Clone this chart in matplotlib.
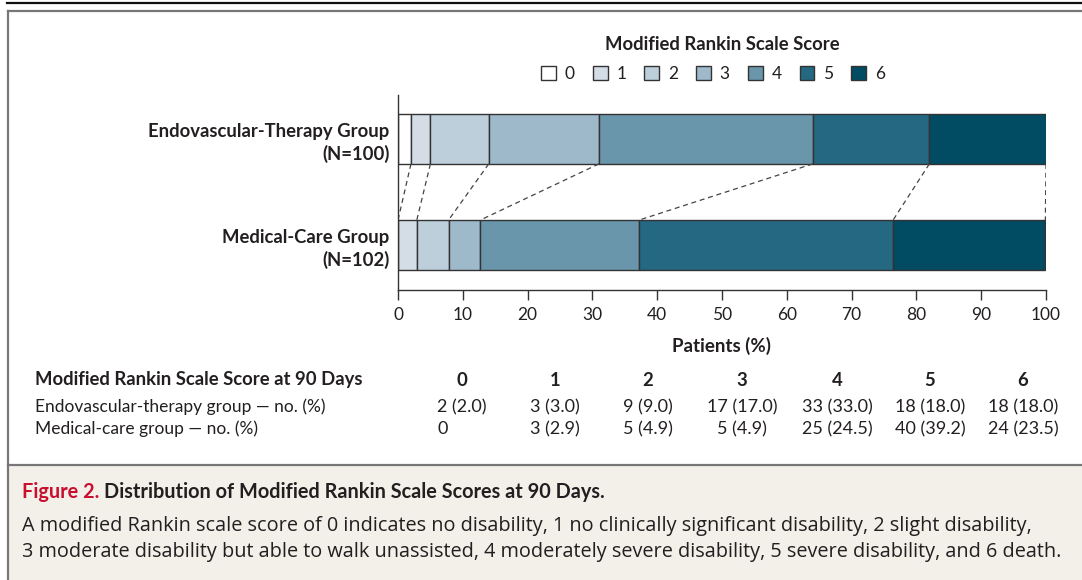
import matplotlib.pyplot as plt
import matplotlib.patches as mpatches
from matplotlib.lines import Line2D

# ===============================
# DATA
# ===============================
scores = ["0", "1", "2", "3", "4", "5", "6"]
groups = ["Endovascular-Therapy Group\n(N=100)", "Medical-Care Group\n(N=102)"]
endo_pct = [2.0, 3.0, 9.0, 17.0, 33.0, 18.0, 18.0]
med_pct = [0.0, 2.9, 4.9, 4.9, 24.5, 39.2, 23.5]
endo_n = [2, 3, 9, 17, 33, 18, 18]
med_n = [0, 3, 5, 5, 25, 40, 24]
xticks = [0, 10, 20, 30, 40, 50, 60, 70, 80, 90, 100]

colors = ["#ffffff", "#d4dde5", "#bccfdb", "#9eb9ca", "#6a96ab", "#246882", "#014b63"]
EDGE = "#333333"
TEXT = "#231f20"
W, H = 1082, 580
BOLD = 13.3

plt.rcParams["font.family"] = ["Lato", "DejaVu Sans"]


def fx(x):
    return x / W


def fy(y):
    return 1 - y / H


fig = plt.figure(figsize=(W / 100, H / 100), dpi=100)

# ===============================
# FRAME / CAPTION BACKGROUND
# ===============================
fig.add_artist(mpatches.Rectangle((fx(8), 0), 1, fy(466), transform=fig.transFigure,
                                  facecolor="#f3f0ea", edgecolor="none", zorder=0))
fig.add_artist(Line2D([fx(7), 1], [fy(3), fy(3)], transform=fig.transFigure, color="#111111", lw=1.6))
fig.add_artist(Line2D([fx(8), 1], [fy(11), fy(11)], transform=fig.transFigure, color="#777777", lw=1.6))
fig.add_artist(Line2D([fx(8), fx(8)], [0, fy(11)], transform=fig.transFigure, color="#777777", lw=1.6))
fig.add_artist(Line2D([fx(8), 1], [fy(465), fy(465)], transform=fig.transFigure, color="#777777", lw=1.6))

# ===============================
# BARS
# ===============================
ax = fig.add_axes([fx(398), fy(290), fx(1046) - fx(398), fy(95) - fy(290)])
bar_h = 0.47
ypos = [1, 0]
for y, vals in zip(ypos, [endo_pct, med_pct]):
    left = 0
    for v, c in zip(vals, colors):
        if v > 0:
            ax.barh(y, v, left=left, height=bar_h, color=c, edgecolor=EDGE, linewidth=1.0)
        left += v

# dashed connectors between cumulative boundaries
endo_cum, med_cum = [], []
a = b = 0
for e, m in zip(endo_pct, med_pct):
    a += e
    b += m
    endo_cum.append(a)
    med_cum.append(b)
for e, m in zip(endo_cum, med_cum):
    ax.plot([e, m], [1 - bar_h / 2, bar_h / 2], ls=(0, (4, 3)), color="#444444", lw=0.9)

ax.set_xlim(0, 100)
ax.set_ylim(-0.4245, 1.415)
ax.set_xticks(xticks)
ax.set_yticks(ypos)
ax.set_yticklabels(groups, fontweight="bold", fontsize=BOLD, color=TEXT, linespacing=1.3)
ax.tick_params(axis="y", length=0, pad=6)
ax.tick_params(axis="x", length=7, width=1.0, color=EDGE, labelsize=12.5, labelcolor=TEXT, pad=5)
for s in ["top", "right"]:
    ax.spines[s].set_visible(False)
for s in ["left", "bottom"]:
    ax.spines[s].set_color(EDGE)
    ax.spines[s].set_linewidth(1.0)
ax.set_xlabel("Patients (%)", fontweight="bold", fontsize=13.5, color=TEXT, labelpad=10)

# ===============================
# LEGEND
# ===============================
fig.text(fx(722), fy(45), "Modified Rankin Scale Score", fontsize=BOLD, fontweight="bold",
         color=TEXT, ha="center", va="center")
handles = [mpatches.Patch(facecolor=c, edgecolor=EDGE, linewidth=1.0, label=s)
           for c, s in zip(colors, scores)]
leg = fig.legend(handles=handles, ncol=7, loc="center", bbox_to_anchor=(fx(713), fy(74)),
                 frameon=False, fontsize=12.5, handlelength=0.85, handleheight=0.85,
                 handletextpad=0.5, columnspacing=1.05, borderpad=0)
for t in leg.get_texts():
    t.set_color(TEXT)

# ===============================
# TABLE
# ===============================
col_x = [462, 555, 648, 742, 837, 930, 1023]
row_y = [380, 407, 429]
fig.text(fx(35), fy(row_y[0]), "Modified Rankin Scale Score at 90 Days", fontsize=BOLD,
         fontweight="bold", color=TEXT, va="center")
fig.text(fx(35), fy(row_y[1]), "Endovascular-therapy group \u2014 no. (%)", fontsize=12.5,
         color=TEXT, va="center")
fig.text(fx(35), fy(row_y[2]), "Medical-care group \u2014 no. (%)", fontsize=12.5,
         color=TEXT, va="center")

fig.canvas.draw()
renderer = fig.canvas.get_renderer()
for i, s in enumerate(scores):
    fig.text(fx(col_x[i]), fy(row_y[0]), s, fontsize=BOLD, fontweight="bold", color=TEXT,
             ha="center", va="center")
    t1 = fig.text(fx(col_x[i]), fy(row_y[1]), f"{endo_n[i]} ({endo_pct[i]:.1f})", fontsize=13,
                  color=TEXT, ha="center", va="center")
    # right-align the medical-care count under the endovascular count
    c1 = fig.text(0, 0, str(endo_n[i]), fontsize=13)
    c2 = fig.text(0, 0, str(med_n[i]), fontsize=13)
    bb = t1.get_window_extent(renderer)
    x_right = bb.x0 + c1.get_window_extent(renderer).width
    x_left = x_right - c2.get_window_extent(renderer).width
    c1.remove()
    c2.remove()
    label = str(med_n[i]) if med_n[i] == 0 else f"{med_n[i]} ({med_pct[i]:.1f})"
    fig.text(x_left / fig.bbox.width, fy(row_y[2]), label, fontsize=13, color=TEXT,
             ha="left", va="center")

# ===============================
# CAPTION
# ===============================
cap_font = ["Open Sans", "DejaVu Sans"]
t = fig.text(fx(22), fy(492), "Figure 2. ", fontsize=14.3, fontweight="bold", color="#c8102e",
             va="center")
bb = t.get_window_extent(renderer)
fig.text(bb.x1 / fig.bbox.width, fy(492), "Distribution of Modified Rankin Scale Scores at 90 Days.",
         fontsize=14.3, fontweight="bold", color=TEXT, va="center")
fig.text(fx(22), fy(526), "A modified Rankin scale score of 0 indicates no disability, 1 no clinically "
         "significant disability, 2 slight disability,", fontsize=14.3, color=TEXT, va="center",
         family=cap_font)
fig.text(fx(22), fy(552), "3 moderate disability but able to walk unassisted, 4 moderately severe "
         "disability, 5 severe disability, and 6 death.", fontsize=14.3, color=TEXT, va="center",
         family=cap_font)

fig.savefig("out.png", dpi=100)
